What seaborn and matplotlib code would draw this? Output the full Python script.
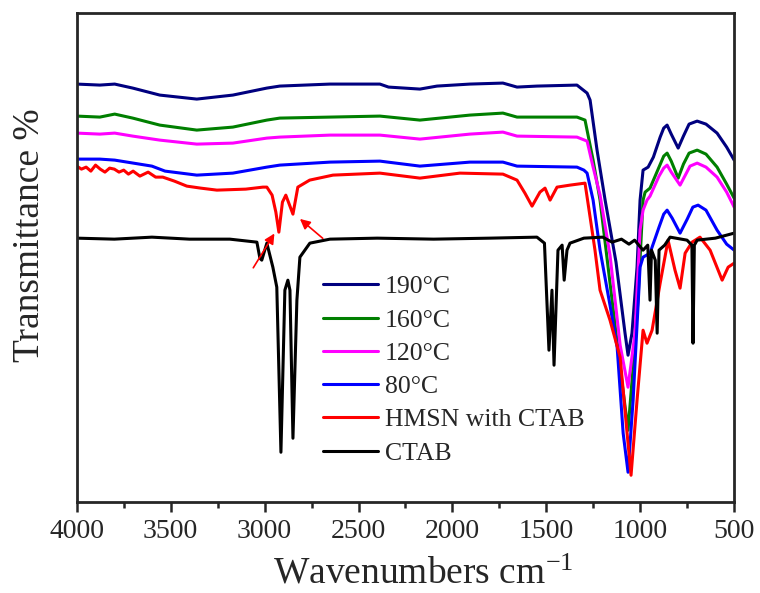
import numpy as np
import pandas as pd
import matplotlib
matplotlib.use("Agg")
import matplotlib.pyplot as plt
import seaborn as sns

# ---------------- data ----------------
labels = ["190°C", "160°C", "120°C", "80°C", "HMSN with CTAB", "CTAB"]
colors = ["#00007f", "#007f00", "#ff00ff", "#0000ff", "#ff0000", "#000000"]

wn_190 = [4000, 3877, 3798, 3702, 3558, 3361, 3169, 2988, 2919, 2652, 2386, 2340, 2173, 2082, 1907,
          1731, 1656, 1550, 1337, 1283, 1267, 1230, 1187, 1129, 1081, 1065, 1044, 1017, 1001, 985,
          958, 930, 894, 875, 857, 835, 798, 770, 740, 697, 650, 591, 540, 500]
t_190 = [418, 417, 418, 414, 407, 403, 407, 414, 416, 418, 418, 415, 413, 416, 418,
         419, 415, 416, 417, 409, 402, 352, 302, 240, 169, 147, 169, 235, 302, 332,
         335, 345, 365, 374, 377, 368, 354, 366, 378, 381, 378, 369, 355, 342]

wn_160 = [4000, 3877, 3798, 3702, 3558, 3361, 3169, 2988, 2919, 2652, 2386, 2173, 1907, 1731, 1656,
          1337, 1294, 1251, 1214, 1150, 1107, 1065, 1038, 1012, 985, 974, 948, 900, 875, 857,
          835, 798, 770, 740, 697, 650, 591, 540, 500]
t_160 = [386, 385, 388, 384, 377, 372, 375, 382, 384, 385, 386, 382, 387, 389, 385,
         385, 382, 342, 302, 202, 135, 72, 135, 202, 302, 310, 314, 335, 346, 349,
         341, 324, 338, 349, 352, 348, 335, 318, 304]

wn_120 = [4000, 3877, 3798, 3702, 3558, 3361, 3169, 2988, 2919, 2652, 2386, 2173, 1907, 1731, 1656,
          1337, 1283, 1251, 1214, 1161, 1107, 1065, 1028, 1001, 985, 964, 948, 900, 875, 857,
          835, 788, 760, 735, 697, 650, 591, 540, 500]
t_120 = [369, 368, 369, 366, 362, 358, 359, 364, 365, 367, 367, 363, 368, 370, 366,
         365, 361, 335, 307, 247, 157, 115, 169, 272, 292, 302, 306, 326, 334, 337,
         330, 317, 327, 336, 339, 335, 325, 310, 295]

wn_80 = [4000, 3877, 3798, 3600, 3530, 3361, 3169, 2988, 2919, 2652, 2386, 2173, 1907, 1731, 1656,
         1337, 1300, 1283, 1251, 1214, 1161, 1123, 1091, 1065, 1038, 1001, 985, 948, 900, 875,
         857, 830, 788, 750, 720, 692, 650, 591, 540, 500]
t_80 = [343, 343, 342, 336, 331, 327, 329, 335, 337, 340, 341, 336, 340, 340, 336,
        335, 332, 329, 302, 252, 197, 155, 69, 30, 102, 235, 245, 249, 275, 288,
        292, 284, 269, 283, 295, 297, 292, 272, 258, 252]

wn_hm = [4000, 3975, 3950, 3925, 3900, 3875, 3850, 3825, 3800, 3775, 3750, 3725, 3700, 3664, 3620,
         3580, 3542, 3480, 3414, 3340, 3254, 3100, 3009, 2988, 2960, 2940, 2924, 2905, 2887, 2849,
         2823, 2760, 2636, 2386, 2173, 1960, 1731, 1656, 1614, 1576, 1534, 1507, 1480, 1443, 1374,
         1294, 1267, 1241, 1214, 1161, 1107, 1070, 1049, 1017, 985, 964, 937, 894, 852, 815,
         788, 761, 724, 682, 628, 564, 532, 500]
t_hm = [336, 333, 335, 331, 337, 333, 330, 334, 333, 330, 332, 328, 331, 326, 330,
        325, 325, 321, 316, 314, 312, 313, 315, 315, 307, 290, 270, 300, 307, 288,
        315, 322, 327, 329, 324, 329, 328, 322, 309, 296, 310, 314, 302, 315, 317,
        319, 285, 252, 212, 182, 145, 69, 27, 102, 172, 159, 172, 219, 262, 232,
        214, 249, 260, 265, 252, 222, 235, 239]

wn_ct = [4000, 3800, 3600, 3400, 3185, 3041, 3025, 3015, 2988, 2956, 2935, 2913, 2892, 2876, 2865,
         2849, 2828, 2812, 2759, 2652, 2400, 2100, 1800, 1550, 1510, 1486, 1470, 1459, 1438, 1416,
         1405, 1390, 1374, 1300, 1200, 1150, 1100, 1060, 1030, 985, 960, 948, 940, 920, 910,
         900, 870, 841, 751, 725, 719, 712, 697, 600, 500]
t_ct = [264, 263, 265, 263, 263, 260, 244, 242, 259, 235, 215, 50, 212, 222, 212,
        64, 202, 245, 259, 263, 264, 263, 264, 265, 259, 152, 212, 137, 252, 257,
        222, 252, 259, 264, 265, 260, 263, 258, 262, 252, 257, 202, 252, 242, 169,
        252, 257, 265, 262, 257, 159, 257, 262, 264, 269]

series = [(wn_190, t_190), (wn_160, t_160), (wn_120, t_120),
          (wn_80, t_80), (wn_hm, t_hm), (wn_ct, t_ct)]

frames = []
for lab, (w, t) in zip(labels, series):
    frames.append(pd.DataFrame({"wn": w, "T": t, "sample": lab}))
df = pd.concat(frames, ignore_index=True)

# ---------------- style ----------------
sns.set_style("ticks")
plt.rcParams["font.family"] = ["Liberation Serif", "DejaVu Serif"]
plt.rcParams["mathtext.fontset"] = "custom"
plt.rcParams["mathtext.rm"] = "Liberation Serif"
plt.rcParams["mathtext.it"] = "Liberation Serif:italic"

fig = plt.figure(figsize=(7.6, 5.93), dpi=100)
ax = fig.add_axes([0.101, 0.153, 0.865, 0.825])

sns.lineplot(data=df, x="wn", y="T", hue="sample", hue_order=labels,
             palette=colors, estimator=None, sort=True, linewidth=2.2,
             ax=ax, legend=False)

ax.set_xlim(4000, 500)
ax.set_ylim(0, 489)
ax.set_xticks(np.arange(4000, 499, -500))
ax.set_xticks(np.arange(3750, 500, -500), minor=True)
ax.set_yticks([])
ax.tick_params(axis="x", which="major", direction="out", length=7, width=1.8,
               labelsize=20, pad=5)
ax.tick_params(axis="x", which="minor", direction="out", length=4, width=1.8)
ax.tick_params(axis="y", left=False, right=False)
for s in ax.spines.values():
    s.set_linewidth(2.0)
    s.set_visible(True)

ax.set_xlabel("Wavenumbers cm$^{\\mathrm{-1}}$", fontsize=27)
ax.xaxis.set_label_coords(0.527, -0.112)
ax.set_ylabel("Transmittance %", fontsize=27)
ax.yaxis.set_label_coords(-0.045, 0.546)

# red arrows pointing at the CH2 stretching bands
arrow_kw = dict(arrowstyle="-|>", color="red", lw=1.2, mutation_scale=15)
ax.annotate("", xy=(2940, 271), xytext=(3068, 232), arrowprops=arrow_kw)
ax.annotate("", xy=(2823, 285), xytext=(2679, 262), arrowprops=arrow_kw)

handles = ax.get_lines()[:len(labels)]
ax.legend(handles, labels, loc="upper left", bbox_to_anchor=(0.374, 0.464),
          frameon=False, fontsize=18.5, handlelength=2.14, handletextpad=0.27,
          labelspacing=0.40, borderpad=0, borderaxespad=0)

fig.savefig("out.png", dpi=100)
